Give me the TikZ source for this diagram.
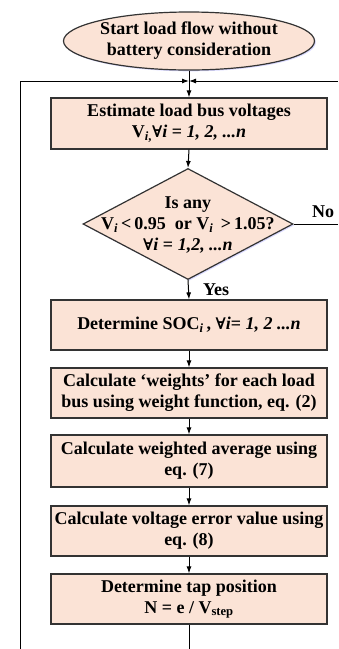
\documentclass[tikz,border=0pt]{standalone}
\usepackage{fontspec}
\setmainfont{Liberation Serif}
\newfontfamily\symfont{DejaVu Serif}
\newcommand{\fa}{{\symfont\fontsize{16}{21}\selectfont ∀}}
\usetikzlibrary{arrows.meta,shapes.geometric,shadows}
\definecolor{peach}{HTML}{FBE3D6}
\definecolor{edge}{HTML}{333333}
\begin{document}
\begin{tikzpicture}[x=1pt,y=-1pt,
  every node/.style={font=\bfseries\fontsize{18}{21}\selectfont, align=center, inner sep=0pt},
  shade/.style={drop shadow={shadow xshift=1.3pt,shadow yshift=-1.3pt,fill=blue!25!white,opacity=0.6}},
  procbox/.style={rectangle, draw=edge, line width=1.2pt, fill=peach, minimum width=276pt, minimum height=50pt, shade},
  startnode/.style={ellipse, draw=edge, line width=1.2pt, fill=peach, minimum width=228pt, minimum height=58pt, shade},
  decision/.style={diamond, draw=edge, line width=1.2pt, fill=peach, minimum width=210pt, minimum height=111pt, shade},
  conn/.style={line width=1pt, black},
  arr/.style={conn, -{Latex[length=7pt,width=5pt]}}]
\useasboundingbox (0,0) rectangle (338,649);
\node[startnode] (start) at (189,41) {Start load flow without\\battery consideration};
\node[procbox, minimum height=51pt] (b1) at (189,123.5) {Estimate load bus voltages\\V\textsubscript{\textit{i},}\fa\textit{i} = \textit{1, 2, ...n}};
\node[decision] (d) at (188,224) {};
\node (dtext) at (188,225) {Is any\\V\textsubscript{\textit{i}}\,{<}\,0.95\ \ or V\textsubscript{\textit{i}}\ \,{>}\,1.05?\\\fa\textit{i} = \textit{1,2, ...n}};
\node[procbox] (b2) at (189,325) {Determine SOC\textsubscript{\textit{i}}\,, \fa\textit{i}= \textit{1, 2 ...n}};
\node[procbox] (b3) at (189,393) {Calculate ‘weights’ for each load\\bus using weight function, eq. (2)};
\node[procbox, minimum height=52pt] (b4) at (189,461) {Calculate weighted average using\\eq. (7)};
\node[procbox] (b5) at (189,531) {Calculate voltage error value using\\eq. (8)};
\node[procbox] (b6) at (189,599) {Determine tap position\\N = e / V\textsubscript{step}};
\coordinate (m) at (189,81);
\coordinate (lb) at (20,649);
\coordinate (lt) at (20,81);
\coordinate (rt) at (338,81);
\coordinate (no) at (338,224);
\coordinate (bot) at (189,649);
\draw[conn] (start.south) -- (m);
\draw[arr] (m) -- (b1.north);
\draw[arr] (lb) -- (lt) -- (m);
\draw[arr] (rt) -- (m);
\draw[arr] (b1.south) -- (d.north);
\draw[arr] (d.south) -- (b2.north);
\draw[conn] (d.east) -- (no);
\draw[arr] (b2.south) -- (b3.north);
\draw[arr] (b3.south) -- (b4.north);
\draw[arr] (b4.south) -- (b5.north);
\draw[arr] (b5.south) -- (b6.north);
\draw[conn] (b6.south) -- (bot);
\node[anchor=base west] (nolabel) at (312,217) {No};
\node[anchor=base west] (yeslabel) at (203,295) {Yes};
\end{tikzpicture}
\end{document}
